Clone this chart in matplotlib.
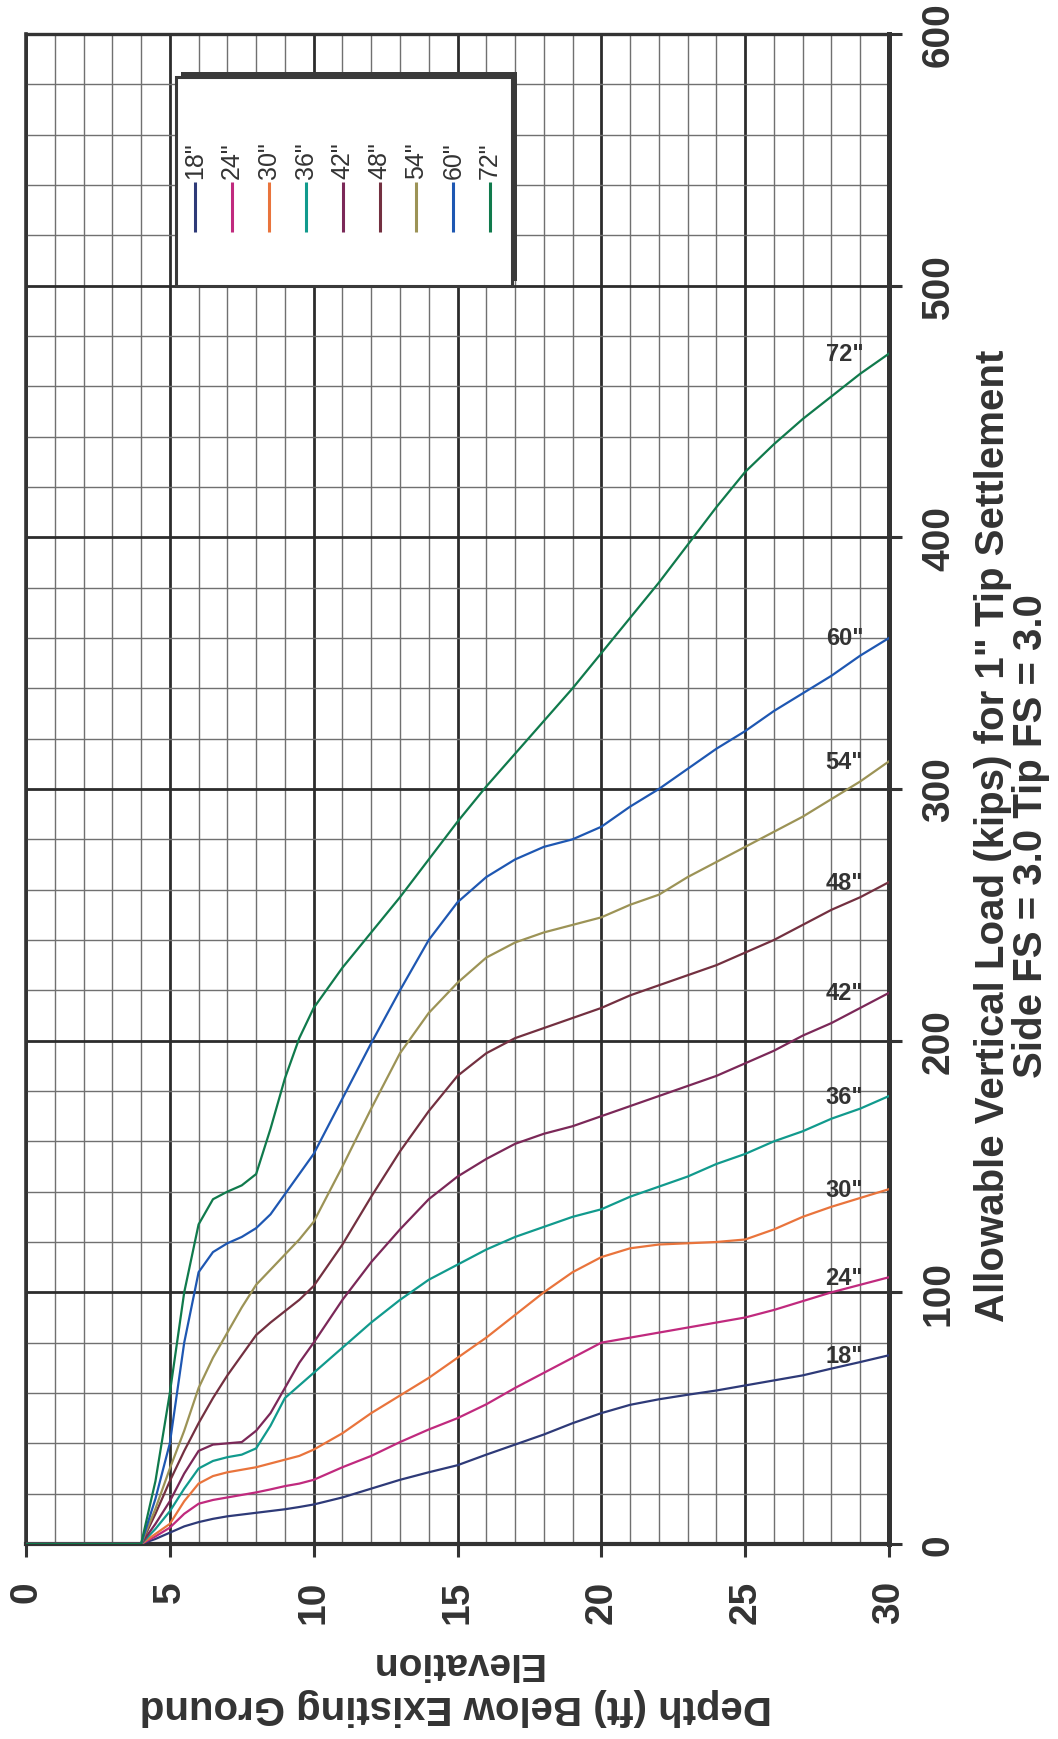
import matplotlib
matplotlib.use('Agg')
import matplotlib.pyplot as plt
from matplotlib.patches import Rectangle
from matplotlib.ticker import MultipleLocator

# ---------------- data ----------------
depth = [0, 4, 4.5, 5, 5.5, 6, 6.5, 7, 7.5, 8, 8.5, 9, 9.5, 10,
         11, 12, 13, 14, 15, 16, 17, 18, 19, 20,
         21, 22, 23, 24, 25, 26, 27, 28, 29, 30]

load_18 = [0, 0, 2, 4.5, 7, 8.7, 10, 11, 11.7, 12.4, 13.1, 13.8, 14.7, 15.7,
           18.5, 22, 25.5, 28.5, 31.3, 35.5, 39.5, 43.5, 48, 52,
           55.3, 57.5, 59.3, 61, 63, 65, 67, 69.7, 72.3, 75]
load_24 = [0, 0, 3, 6.5, 12, 16, 17.5, 18.5, 19.5, 20.5, 21.7, 23, 24, 25.5,
           30.5, 35, 40.5, 45.5, 50, 55.5, 62, 68, 74, 80,
           82, 84, 86, 88, 90, 93, 96.5, 100, 103, 106]
load_30 = [0, 0, 4, 8, 17, 24, 27, 28.5, 29.5, 30.5, 32, 33.5, 35, 37.5,
           44, 52, 59, 66, 74, 82, 91, 100, 108, 114,
           117.5, 119, 119.5, 120, 121, 125, 130, 134, 137.5, 141]
load_36 = [0, 0, 6, 13, 22, 30, 33, 34.5, 35.5, 38, 47, 58, 63, 68,
           78, 88, 97, 105, 111, 117, 122, 126, 130, 133,
           138, 142, 146, 151, 155, 160, 164, 169, 173, 178]
load_42 = [0, 0, 8, 17, 28, 37, 39.5, 40, 40.5, 45, 52, 62, 72, 80,
           97, 112, 125, 137, 146, 153, 159, 163, 166, 170,
           174, 178, 182, 186, 191, 196, 202, 207, 213, 219]
load_48 = [0, 0, 12, 25, 37, 48, 58, 67, 75, 83, 88, 92.5, 97, 102.5,
           119, 138, 156, 172, 186, 195, 201, 205, 209, 213,
           218, 222, 226, 230, 235, 240, 246, 252, 257, 263]
load_54 = [0, 0, 14, 30, 45, 62, 74, 84, 94, 103, 109, 115, 121, 128,
           150, 173, 195, 211, 223, 233, 239, 243, 246, 249,
           254, 258, 265, 271, 277, 283, 289, 296, 303, 311]
load_60 = [0, 0, 18, 40, 80, 108, 116, 119.5, 122, 125.5, 131, 139, 147, 155,
           177, 199, 220, 240, 255, 265, 272, 277, 280, 285,
           293, 300, 308, 316, 323, 331, 338, 345, 353, 360]
load_72 = [0, 0, 25, 60, 100, 127, 137, 140, 142.5, 147, 165, 185, 201, 213,
           229, 243, 257, 272, 287, 301, 314, 327, 340, 354,
           368, 382, 397, 412, 426, 437, 447, 456, 465, 473]

series_labels = ['18"', '24"', '30"', '36"', '42"', '48"', '54"', '60"', '72"']
series_values = [load_18, load_24, load_30, load_36, load_42, load_48,
                 load_54, load_60, load_72]
series_colors = ['#2E3A78', '#C02A7E', '#E9743C', '#119A8D', '#7B2858',
                 '#733040', '#9C9356', '#1E57B2', '#107A4C']

x_ticks = [0, 5, 10, 15, 20, 25, 30]
y_ticks = [0, 100, 200, 300, 400, 500, 600]

title_text = 'Allowable Vertical Load (kips) for 1" Tip Settlement\nSide FS = 3.0 Tip FS = 3.0'
xlabel_line1 = 'Depth (ft) Below Existing Ground'
xlabel_line2 = 'Elevation'

# ---------------- figure ----------------
plt.rcParams['font.family'] = ['Liberation Sans', 'DejaVu Sans']

W, H = 1058, 1740
fig = plt.figure(figsize=(W / 100, H / 100), dpi=100)
L, R, T, B = 26, 889, 35, 1545
ax = fig.add_axes([L / W, 1 - B / H, (R - L) / W, (B - T) / H])

ax.set_xlim(0, 30)
ax.set_ylim(0, 600)

# grid
ax.xaxis.set_major_locator(MultipleLocator(5))
ax.xaxis.set_minor_locator(MultipleLocator(1))
ax.yaxis.set_major_locator(MultipleLocator(100))
ax.yaxis.set_minor_locator(MultipleLocator(20))
ax.grid(which='minor', color='#707070', linewidth=1.0, zorder=0)
ax.grid(which='major', color='#2c2c2c', linewidth=2.0, zorder=0)
ax.set_axisbelow(True)

ax.set_xticks(x_ticks)
ax.set_yticks(y_ticks)
ax.set_xticklabels([str(v) for v in x_ticks])
ax.set_yticklabels([str(v) for v in y_ticks])

ax.yaxis.tick_right()
ax.tick_params(axis='both', which='minor', length=0)
ax.tick_params(axis='x', which='major', direction='out', length=9, width=2.2,
               color='#333333', pad=17, labelsize=28, labelcolor='#333333',
               labelrotation=90)
ax.tick_params(axis='y', which='major', direction='out', length=9, width=2.2,
               color='#333333', pad=14, labelsize=28, labelcolor='#333333',
               labelrotation=90)
for lab in ax.get_xticklabels() + ax.get_yticklabels():
    lab.set_fontweight('bold')
for lab in ax.get_yticklabels():
    lab.set_verticalalignment('center')

for side, lw in [('left', 2.6), ('top', 2.4), ('right', 3.6), ('bottom', 3.0)]:
    ax.spines[side].set_linewidth(lw)
    ax.spines[side].set_color('#333333')

# curves
for vals, col in zip(series_values, series_colors):
    ax.plot(depth, vals, color=col, linewidth=1.6, zorder=3,
            solid_joinstyle='round')

# curve-end labels
for lab, vals in zip(series_labels, series_values):
    ax.text(28.45, vals[-1], lab, fontsize=17, fontweight='bold',
            color='#333333', ha='center', va='center', zorder=4)

# legend (drawn manually with vertical handles and rotated labels)
def fx(px):
    return (px - L) / (R - L)

def fy(py):
    return (B - py) / (B - T)

bx0, bx1, by0, by1 = fx(176), fx(512), fy(287), fy(78)
shadow = Rectangle((bx0 + 0.006, by0 + 0.003), bx1 - bx0, by1 - by0,
                   transform=ax.transAxes, facecolor='#3a3a3a',
                   edgecolor='none', zorder=5)
ax.add_patch(shadow)
box = Rectangle((bx0, by0), bx1 - bx0, by1 - by0, transform=ax.transAxes,
                facecolor='white', edgecolor='#3a3a3a', linewidth=2.2,
                zorder=6)
ax.add_patch(box)
for i, (lab, col) in enumerate(zip(series_labels, series_colors)):
    hx = fx(195 + i * 36.9)
    ax.plot([hx, hx], [fy(233), fy(183)], color=col, linewidth=2.2,
            transform=ax.transAxes, zorder=7, solid_capstyle='butt')
    ax.text(hx, fy(179), lab, transform=ax.transAxes, rotation=90,
            ha='center', va='bottom', fontsize=18, color='#333333', zorder=7)

# titles / labels
fig.text(1012 / W, 1 - 836 / H, title_text, rotation=90, ha='center',
         va='center', multialignment='center', fontsize=29,
         fontweight='bold', color='#333333', linespacing=1.0)
fig.text(456 / W, 1 - 1663 / H, xlabel_line2, rotation=180, ha='center',
         va='center', fontsize=28, fontweight='bold', color='#333333')
fig.text(456 / W, 1 - 1707 / H, xlabel_line1, rotation=180, ha='center',
         va='center', fontsize=29, fontweight='bold', color='#333333')

fig.savefig('out.png', dpi=100, facecolor='white')
